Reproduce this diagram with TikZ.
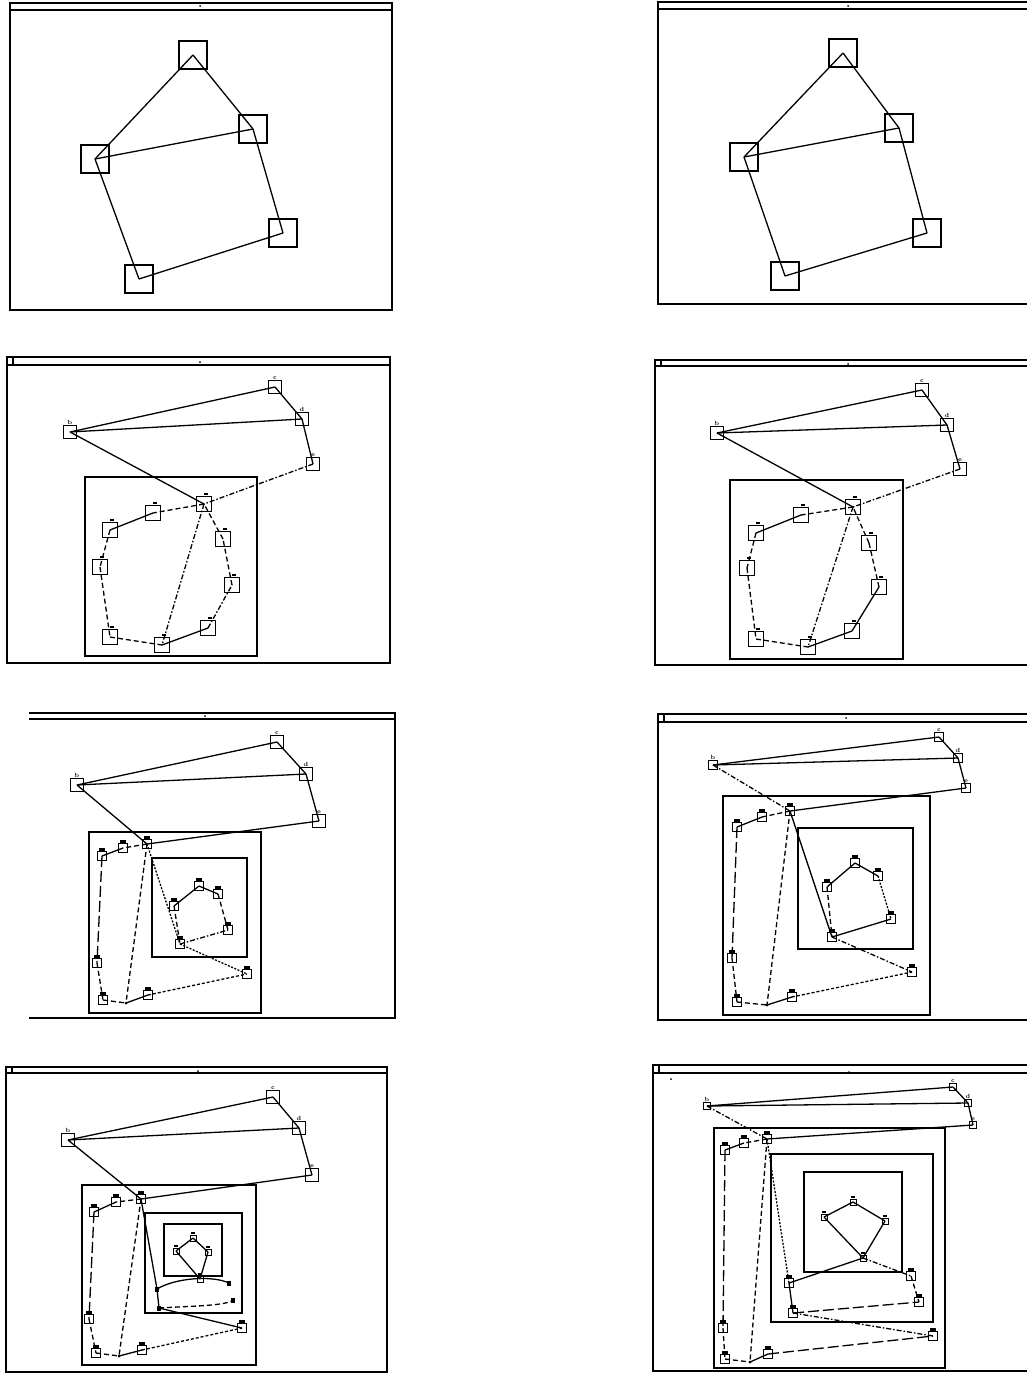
\documentclass[tikz,border=0pt]{standalone}
\usepackage{tikz}
\begin{document}
\tikzset{
 frm/.style={line width=2pt},
 bar/.style={line width=1.1pt},
 big/.style={draw, rectangle, minimum size=28pt, inner sep=0pt, line width=1.3pt},
 sq/.style={draw, rectangle, minimum size=13pt, inner sep=0pt, line width=1.3pt},
 sqs/.style={draw, rectangle, minimum size=9pt, inner sep=0pt, line width=1.2pt},
 sqm/.style={draw, rectangle, minimum size=15pt, inner sep=0pt, line width=1.3pt,
   label={[fill=black, inner sep=0pt, minimum width=4pt, minimum height=2.5pt, label distance=0.5pt, xshift=2pt]above:{}}},
 cp/.style={draw, rectangle, minimum size=9pt, inner sep=0pt, line width=1.2pt,
   label={[fill=black, inner sep=0pt, minimum width=6pt, minimum height=3pt, label distance=0pt]above:{}}},
 cps/.style={draw, rectangle, minimum size=6pt, inner sep=0pt, line width=1pt,
   label={[fill=black, inner sep=0pt, minimum width=4pt, minimum height=2pt, label distance=0pt]above:{}}},
 jn/.style={circle, fill=black, inner sep=0pt, minimum size=3pt},
 mk/.style={rectangle, fill=black, inner sep=0pt, minimum width=4pt, minimum height=5pt},
 lab/.style={font=\fontsize{6}{6}\selectfont\bfseries, inner sep=0.5pt},
 ln/.style={line width=1.3pt},
 ds/.style={ln, dash pattern=on 5pt off 3pt},
 dsd/.style={ln, dash pattern=on 3pt off 2pt},
 dd/.style={ln, dash pattern=on 5pt off 2pt on 1.5pt off 2pt},
 dt/.style={ln, dash pattern=on 2pt off 1.5pt},
 ld/.style={ln, dash pattern=on 11pt off 4pt},
 bx/.style={line width=1.5pt},
}
\begin{tikzpicture}[x=1pt,y=-1pt]
\clip (0,0) rectangle (1027,1373);
\fill[white] (0,0) rectangle (1027,1373);

% ================= Panel 1 =================
\draw[frm] (10,3) rectangle (392,310);
\draw[bar] (10,10) -- (392,10);
\fill (200,6) circle (1pt);
\node[big] (p1a) at (193,55) {};
\node[big] (p1b) at (253,129) {};
\node[big] (p1c) at (95,159) {};
\node[big] (p1d) at (283,233) {};
\node[big] (p1e) at (139,279) {};
\draw[ln] (p1a.center) -- (p1b.center);
\draw[ln] (p1a.center) -- (p1c.center);
\draw[ln] (p1c.center) -- (p1b.center);
\draw[ln] (p1b.center) -- (p1d.center);
\draw[ln] (p1c.center) -- (p1e.center);
\draw[ln] (p1e.center) -- (p1d.center);

% ================= Panel 2 =================
\draw[frm] (658,2) rectangle (1035,304);
\draw[bar] (658,9) -- (1035,9);
\fill (848,6) circle (1pt);
\node[big] (p2a) at (843,53) {};
\node[big] (p2b) at (899,128) {};
\node[big] (p2c) at (744,157) {};
\node[big] (p2d) at (927,233) {};
\node[big] (p2e) at (785,276) {};
\draw[ln] (p2a.center) -- (p2b.center);
\draw[ln] (p2a.center) -- (p2c.center);
\draw[ln] (p2c.center) -- (p2b.center);
\draw[ln] (p2b.center) -- (p2d.center);
\draw[ln] (p2c.center) -- (p2e.center);
\draw[ln] (p2e.center) -- (p2d.center);

% ================= Panel 3 =================
\draw[frm] (7,357) rectangle (390,663);
\draw[bar] (7,365) -- (390,365);
\draw[bar] (7,357) rectangle (13,365);
\fill (200,362) circle (1pt);
\draw[bx] (85,477) rectangle (257,656);
\node[sq, label={[lab]above:b}] (p3b) at (70,432) {};
\node[sq, label={[lab]above:c}] (p3c) at (275,387) {};
\node[sq, label={[lab]above:d}] (p3d) at (302,419) {};
\node[sq, label={[lab]above:e}] (p3e) at (313,464) {};
\node[sqm] (p3h) at (204,504) {};
\node[sqm] (p3i1) at (153,513) {};
\node[sqm] (p3i2) at (110,530) {};
\node[sqm] (p3i3) at (100,567) {};
\node[sqm] (p3i4) at (110,637) {};
\node[sqm] (p3i5) at (162,645) {};
\node[sqm] (p3i6) at (208,628) {};
\node[sqm] (p3i7) at (232,585) {};
\node[sqm] (p3i8) at (223,539) {};
\draw[ln] (p3b.center) -- (p3c.center);
\draw[ln] (p3b.center) -- (p3d.center);
\draw[ln] (p3c.center) -- (p3d.center);
\draw[ln] (p3d.center) -- (p3e.center);
\draw[ln] (p3b.center) -- (p3h.center);
\draw[dd] (p3e.center) -- (p3h.center);
\draw[ds] (p3h.center) -- (p3i1.center);
\draw[ln] (p3i1.center) -- (p3i2.center);
\draw[ds] (p3i2.center) -- (p3i3.center);
\draw[ds] (p3i3.center) -- (p3i4.center);
\draw[ds] (p3i4.center) -- (p3i5.center);
\draw[ln] (p3i5.center) -- (p3i6.center);
\draw[dd] (p3i6.center) -- (p3i7.center);
\draw[ds] (p3i7.center) -- (p3i8.center);
\draw[ds] (p3i8.center) -- (p3h.center);
\draw[dd] (p3h.center) -- (p3i5.center);

% ================= Panel 4 =================
\draw[frm] (655,360) rectangle (1035,665);
\draw[bar] (655,366) -- (1035,366);
\draw[bar] (655,360) rectangle (661,366);
\fill (848,364) circle (1pt);
\draw[bx] (730,480) rectangle (903,659);
\node[sq, label={[lab]above:b}] (p4b) at (717,433) {};
\node[sq, label={[lab]above:c}] (p4c) at (922,390) {};
\node[sq, label={[lab]above:d}] (p4d) at (947,425) {};
\node[sq, label={[lab]above:e}] (p4e) at (960,469) {};
\node[sqm] (p4h) at (853,507) {};
\node[sqm] (p4i1) at (801,515) {};
\node[sqm] (p4i2) at (756,533) {};
\node[sqm] (p4i3) at (747,568) {};
\node[sqm] (p4i4) at (756,639) {};
\node[sqm] (p4i5) at (808,647) {};
\node[sqm] (p4i6) at (852,631) {};
\node[sqm] (p4i7) at (879,587) {};
\node[sqm] (p4i8) at (869,543) {};
\draw[ln] (p4b.center) -- (p4c.center);
\draw[ln] (p4b.center) -- (p4d.center);
\draw[ln] (p4c.center) -- (p4d.center);
\draw[ln] (p4d.center) -- (p4e.center);
\draw[ln] (p4b.center) -- (p4h.center);
\draw[dd] (p4e.center) -- (p4h.center);
\draw[ds] (p4h.center) -- (p4i1.center);
\draw[ln] (p4i1.center) -- (p4i2.center);
\draw[ds] (p4i2.center) -- (p4i3.center);
\draw[ds] (p4i3.center) -- (p4i4.center);
\draw[ds] (p4i4.center) -- (p4i5.center);
\draw[ln] (p4i5.center) -- (p4i6.center);
\draw[ln] (p4i6.center) -- (p4i7.center);
\draw[ds] (p4i7.center) -- (p4i8.center);
\draw[ds] (p4i8.center) -- (p4h.center);
\draw[dd] (p4h.center) -- (p4i5.center);

% ================= Panel 5 =================
\draw[frm] (29,713) -- (395,713) -- (395,1018) -- (29,1018);
\draw[bar] (29,719) -- (395,719);
\fill (205,716) circle (1pt);
\draw[bx] (89,832) rectangle (261,1013);
\draw[bx] (152,858) rectangle (247,957);
\node[sq, label={[lab]above:b}] (p5b) at (77,785) {};
\node[sq, label={[lab]above:c}] (p5c) at (277,742) {};
\node[sq, label={[lab]above:d}] (p5d) at (306,774) {};
\node[sq, label={[lab]above:e}] (p5e) at (319,821) {};
\node[cp] (p5h) at (147,844) {};
\node[cp] (p5a1) at (123,848) {};
\node[cp] (p5a2) at (102,856) {};
\node[cp] (p5a3) at (97,963) {};
\node[cp] (p5a4) at (103,1000) {};
\node[jn] (p5j) at (126,1003) {};
\node[cp] (p5a5) at (148,995) {};
\node[cp] (p5a6) at (247,974) {};
\node[cp] (p5n1) at (180,944) {};
\node[cp] (p5n2) at (174,906) {};
\node[cp] (p5n3) at (199,886) {};
\node[cp] (p5n4) at (218,894) {};
\node[cp] (p5n5) at (228,930) {};
\draw[ln] (p5b.center) -- (p5c.center);
\draw[ln] (p5b.center) -- (p5d.center);
\draw[ln] (p5c.center) -- (p5d.center);
\draw[ln] (p5d.center) -- (p5e.center);
\draw[ln] (p5b.center) -- (p5h.center);
\draw[ln] (p5e.center) -- (p5h.center);
\draw[ds] (p5h.center) -- (p5a1.center);
\draw[ln] (p5a1.center) -- (p5a2.center);
\draw[ld] (p5a2.center) -- (p5a3.center);
\draw[ds] (p5a3.center) -- (p5a4.center);
\draw[ds] (p5a4.center) -- (p5j.center);
\draw[ln] (p5j.center) -- (p5a5.center);
\draw[dsd] (p5a5.center) -- (p5a6.center);
\draw[ds] (p5h.center) -- (p5j.center);
\draw[dt] (p5h.center) -- (p5n1.center);
\draw[dt] (p5n1.center) -- (p5a6.center);
\draw[dd] (p5n1.center) -- (p5n5.center);
\draw[ln] (p5n2.center) -- (p5n3.center);
\draw[ln] (p5n3.center) -- (p5n4.center);
\draw[ds] (p5n4.center) -- (p5n5.center);
\draw[ds] (p5n2.center) -- (p5n1.center);

% ================= Panel 6 =================
\draw[frm] (658,714) rectangle (1035,1020);
\draw[bar] (658,722) -- (1035,722);
\draw[bar] (658,714) rectangle (664,722);
\fill (846,718) circle (1pt);
\draw[bx] (723,796) rectangle (930,1015);
\draw[bx] (798,828) rectangle (913,949);
\node[sqs, label={[lab]above:b}] (p6b) at (713,765) {};
\node[sqs, label={[lab]above:c}] (p6c) at (939,737) {};
\node[sqs, label={[lab]above:d}] (p6d) at (958,758) {};
\node[sqs, label={[lab]above:e}] (p6e) at (966,788) {};
\node[cp] (p6h) at (790,811) {};
\node[cp] (p6a1) at (762,817) {};
\node[cp] (p6a2) at (737,827) {};
\node[cp] (p6a3) at (732,958) {};
\node[cp] (p6a4) at (737,1002) {};
\node[jn] (p6j) at (767,1005) {};
\node[cp] (p6a5) at (792,997) {};
\node[cp] (p6a6) at (912,972) {};
\node[cp] (p6n1) at (832,937) {};
\node[cp] (p6n2) at (827,887) {};
\node[cp] (p6n3) at (855,863) {};
\node[cp] (p6n4) at (878,876) {};
\node[cp] (p6n5) at (891,919) {};
\draw[ln] (p6b.center) -- (p6c.center);
\draw[ln] (p6b.center) -- (p6d.center);
\draw[ln] (p6c.center) -- (p6d.center);
\draw[ln] (p6d.center) -- (p6e.center);
\draw[dd] (p6b.center) -- (p6h.center);
\draw[ln] (p6e.center) -- (p6h.center);
\draw[ds] (p6h.center) -- (p6a1.center);
\draw[ln] (p6a1.center) -- (p6a2.center);
\draw[ld] (p6a2.center) -- (p6a3.center);
\draw[ds] (p6a3.center) -- (p6a4.center);
\draw[ds] (p6a4.center) -- (p6j.center);
\draw[ln] (p6j.center) -- (p6a5.center);
\draw[dsd] (p6a5.center) -- (p6a6.center);
\draw[ds] (p6h.center) -- (p6j.center);
\draw[ln] (p6h.center) -- (p6n1.center);
\draw[dd] (p6n1.center) -- (p6a6.center);
\draw[ln] (p6n1.center) -- (p6n5.center);
\draw[ln] (p6n2.center) -- (p6n3.center);
\draw[ln] (p6n3.center) -- (p6n4.center);
\draw[dt] (p6n4.center) -- (p6n5.center);
\draw[ds] (p6n2.center) -- (p6n1.center);

% ================= Panel 7 =================
\draw[frm] (6,1067) rectangle (387,1372);
\draw[bar] (6,1073) -- (387,1073);
\draw[bar] (6,1067) rectangle (12,1073);
\fill (198,1071) circle (1pt);
\draw[bx] (82,1185) rectangle (256,1365);
\draw[bx] (145,1213) rectangle (242,1313);
\draw[bx] (164,1224) rectangle (222,1276);
\node[sq, label={[lab]above:b}] (p7b) at (68,1140) {};
\node[sq, label={[lab]above:c}] (p7c) at (273,1097) {};
\node[sq, label={[lab]above:d}] (p7d) at (299,1128) {};
\node[sq, label={[lab]above:e}] (p7e) at (312,1175) {};
\node[cp] (p7h) at (141,1199) {};
\node[cp] (p7a1) at (116,1202) {};
\node[cp] (p7a2) at (94,1212) {};
\node[cp] (p7a3) at (89,1319) {};
\node[cp] (p7a4) at (96,1353) {};
\node[jn] (p7j) at (119,1356) {};
\node[cp] (p7a5) at (142,1350) {};
\node[cp] (p7a6) at (242,1328) {};
\node[mk] (p7m1) at (157,1289) {};
\node[mk] (p7m2) at (229,1283) {};
\node[mk] (p7m3) at (233,1300) {};
\node[mk] (p7m4) at (159,1308) {};
\node[cps] (p7t1) at (193,1238) {};
\node[cps] (p7t2) at (176,1251) {};
\node[cps] (p7t3) at (208,1252) {};
\node[cps] (p7t4) at (200,1279) {};
\draw[ln] (p7b.center) -- (p7c.center);
\draw[ln] (p7b.center) -- (p7d.center);
\draw[ln] (p7c.center) -- (p7d.center);
\draw[ln] (p7d.center) -- (p7e.center);
\draw[ln] (p7b.center) -- (p7h.center);
\draw[ln] (p7e.center) -- (p7h.center);
\draw[ds] (p7h.center) -- (p7a1.center);
\draw[ln] (p7a1.center) -- (p7a2.center);
\draw[ld] (p7a2.center) -- (p7a3.center);
\draw[ds] (p7a3.center) -- (p7a4.center);
\draw[ds] (p7a4.center) -- (p7j.center);
\draw[ln] (p7j.center) -- (p7a5.center);
\draw[dsd] (p7a5.center) -- (p7a6.center);
\draw[ds] (p7h.center) -- (p7j.center);
\draw[ln] (p7h.center) -- (p7m1.center);
\draw[ln] (p7m1.center) -- (p7m4.center);
\draw[ln] (p7m1.center) .. controls (175,1278) and (212,1275) .. (p7m2.center);
\draw[ds] (p7m4.center) .. controls (190,1306) and (226,1306) .. (p7m3.center);
\draw[ln] (p7m4.center) -- (p7a6.center);
\draw[ln] (p7t1.center) -- (p7t2.center);
\draw[ln] (p7t1.center) -- (p7t3.center);
\draw[ln] (p7t2.center) -- (p7t4.center);
\draw[ln] (p7t3.center) -- (p7t4.center);

% ================= Panel 8 =================
\draw[frm] (653,1065) rectangle (1035,1371);
\draw[bar] (653,1073) -- (1035,1073);
\draw[bar] (653,1065) rectangle (659,1073);
\fill (849,1072) circle (1pt);
\fill (671,1079) circle (1pt);
\draw[bx] (714,1128) rectangle (945,1368);
\draw[bx] (771,1154) rectangle (933,1322);
\draw[bx] (804,1172) rectangle (902,1272);
\node[sqs, minimum size=7pt, label={[lab]above:b}] (p8b) at (707,1106) {};
\node[sqs, minimum size=7pt, label={[lab]above:c}] (p8c) at (953,1087) {};
\node[sqs, minimum size=7pt, label={[lab]above:d}] (p8d) at (968,1103) {};
\node[sqs, minimum size=7pt, label={[lab]above:e}] (p8e) at (973,1125) {};
\node[cp] (p8h) at (767,1139) {};
\node[cp] (p8a1) at (744,1143) {};
\node[cp] (p8a2) at (725,1150) {};
\node[cp] (p8a3) at (723,1328) {};
\node[cp] (p8a4) at (725,1359) {};
\node[jn] (p8j) at (750,1362) {};
\node[cp] (p8a5) at (768,1354) {};
\node[cp] (p8a6) at (933,1336) {};
\node[cp] (p8q1) at (789,1283) {};
\node[cp] (p8q2) at (793,1313) {};
\node[cp] (p8q3) at (911,1276) {};
\node[cp] (p8q4) at (919,1302) {};
\node[cps] (p8t1) at (853,1202) {};
\node[cps] (p8t2) at (824,1217) {};
\node[cps] (p8t3) at (885,1221) {};
\node[cps] (p8t4) at (863,1258) {};
\draw[ln] (p8b.center) -- (p8c.center);
\draw[ln] (p8b.center) -- (p8d.center);
\draw[ln] (p8c.center) -- (p8d.center);
\draw[ln] (p8d.center) -- (p8e.center);
\draw[dd] (p8b.center) -- (p8h.center);
\draw[ln] (p8e.center) -- (p8h.center);
\draw[ds] (p8h.center) -- (p8a1.center);
\draw[ln] (p8a1.center) -- (p8a2.center);
\draw[ld] (p8a2.center) -- (p8a3.center);
\draw[ds] (p8a3.center) -- (p8a4.center);
\draw[ds] (p8a4.center) -- (p8j.center);
\draw[ln] (p8j.center) -- (p8a5.center);
\draw[ld] (p8a5.center) -- (p8a6.center);
\draw[ds] (p8h.center) -- (p8j.center);
\draw[dt] (p8h.center) -- (p8q1.center);
\draw[ln] (p8q1.center) -- (p8q2.center);
\draw[ln] (p8q1.center) -- (p8t4.center);
\draw[dd] (p8t4.center) -- (p8q3.center);
\draw[ds] (p8q3.center) -- (p8q4.center);
\draw[ld] (p8q2.center) -- (p8q4.center);
\draw[dd] (p8q2.center) -- (p8a6.center);
\draw[ln] (p8t1.center) -- (p8t2.center);
\draw[ln] (p8t1.center) -- (p8t3.center);
\draw[ln] (p8t2.center) -- (p8t4.center);
\draw[ln] (p8t3.center) -- (p8t4.center);
\end{tikzpicture}
\end{document}
